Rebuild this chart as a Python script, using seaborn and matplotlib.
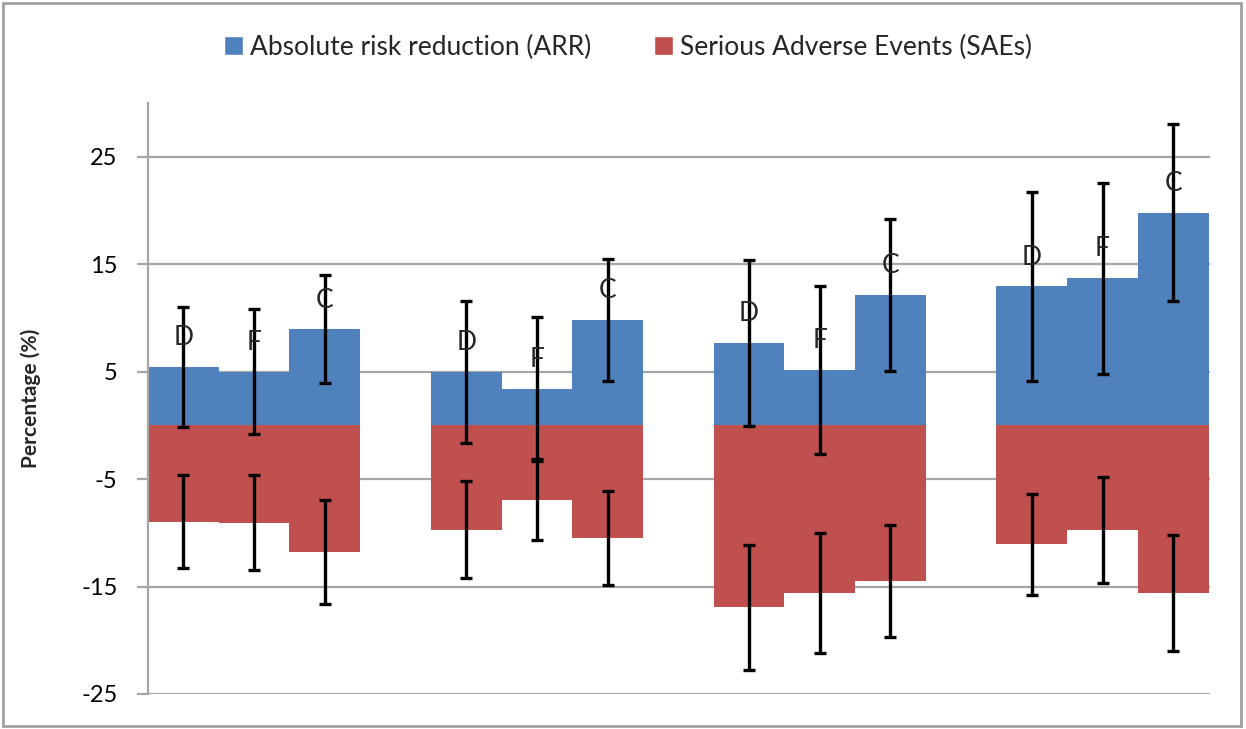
import pandas as pd
import seaborn as sns
import matplotlib.pyplot as plt
from matplotlib.patches import Patch, Rectangle

# ---- data ----
groups = ['1', '2', '3', '4']
drugs = ['D', 'F', 'C']

arr_D = [5.45, 5.0, 7.65, 12.95]
arr_F = [5.0, 3.4, 5.15, 13.7]
arr_C = [8.95, 9.8, 12.15, 19.8]
arr_err_D = [5.6, 6.6, 7.7, 8.8]
arr_err_F = [5.8, 6.7, 7.8, 8.9]
arr_err_C = [5.0, 5.7, 7.1, 8.2]

sae_D = [-8.95, -9.7, -16.95, -11.05]
sae_F = [-9.05, -6.9, -15.6, -9.75]
sae_C = [-11.8, -10.5, -14.5, -15.6]
sae_err_D = [4.35, 4.5, 5.8, 4.7]
sae_err_F = [4.4, 3.75, 5.6, 4.9]
sae_err_C = [4.85, 4.4, 5.2, 5.4]

blue = '#4F81BD'
red = '#C0504D'
grid_col = '#A6A6A6'

arr = {'D': arr_D, 'F': arr_F, 'C': arr_C}
arr_err = {'D': arr_err_D, 'F': arr_err_F, 'C': arr_err_C}
sae = {'D': sae_D, 'F': sae_F, 'C': sae_C}
sae_err = {'D': sae_err_D, 'F': sae_err_F, 'C': sae_err_C}

rows = []
for d in drugs:
    for i, g in enumerate(groups):
        rows.append({'group': g, 'drug': d,
                     'ARR': arr[d][i], 'ARR_err': arr_err[d][i],
                     'SAE': sae[d][i], 'SAE_err': sae_err[d][i]})
df = pd.DataFrame(rows)

sns.set_style('white')
plt.rcParams['font.family'] = ['Lato', 'DejaVu Sans']
plt.rcParams['axes.unicode_minus'] = False

fig = plt.figure(figsize=(12.46, 7.29), dpi=100)
ax = fig.add_axes([148 / 1246, 1 - 694 / 729, (1210 - 148) / 1246, (694 - 103) / 729])

for col, colr in [('ARR', blue), ('SAE', red)]:
    sns.barplot(data=df, x='group', y=col, hue='drug', order=groups, hue_order=drugs,
                palette=[colr] * 3, width=0.75, errorbar=None, legend=False,
                linewidth=0, saturation=1, ax=ax, zorder=2)

# error bars + letters, placed at the bars seaborn drew
conts = ax.containers
for k, d in enumerate(drugs):
    for col, vals, errs in [('ARR', arr, arr_err), ('SAE', sae, sae_err)]:
        cont = conts[k] if col == 'ARR' else conts[3 + k]
        for i, bar in enumerate(cont):
            xc = bar.get_x() + bar.get_width() / 2
            yv = vals[d][i]
            ax.errorbar(xc, yv, yerr=errs[d][i], fmt='none', ecolor='black',
                        elinewidth=2.4, capsize=4.5, capthick=2.4, zorder=4)
            if col == 'ARR':
                ax.annotate(d, (xc, yv), xytext=(0, 21), textcoords='offset points',
                            ha='center', va='center', fontsize=19, zorder=5)

ax.set_ylim(-25, 30)
ax.set_xlim(-0.375, 3.38)
ax.set_yticks([-25, -15, -5, 5, 15, 25])
ax.yaxis.grid(True, color=grid_col, linewidth=1.6, zorder=0)
ax.set_axisbelow(True)
ax.set_xticks([])
ax.set_xlabel('')
ax.set_ylabel('Percentage (%)', fontsize=15, fontweight='bold')
ax.yaxis.set_label_coords(-0.1008, 0.5)
for s in ['top', 'right', 'bottom']:
    ax.spines[s].set_visible(False)
ax.spines['left'].set_color(grid_col)
ax.spines['left'].set_linewidth(1.6)
ax.tick_params(axis='y', which='major', left=True, length=8, width=1.6, color=grid_col,
               labelsize=17, labelcolor='black', pad=14, direction='out')

handles = [Patch(facecolor=blue, label='Absolute risk reduction (ARR)'),
           Patch(facecolor=red, label='Serious Adverse Events (SAEs)')]
fig.legend(handles=handles, loc='center', bbox_to_anchor=(628 / 1246, 1 - 47 / 729), ncol=2,
           frameon=False, fontsize=19, handlelength=0.72, handleheight=0.72,
           handletextpad=0.25, columnspacing=2.4)

fig.patches.append(Rectangle((3 / 1246, 3 / 729), 1238 / 1246, 723 / 729, transform=fig.transFigure,
                             fill=False, edgecolor='#A0A0A0', linewidth=2))

fig.savefig('out.png', dpi=100)
